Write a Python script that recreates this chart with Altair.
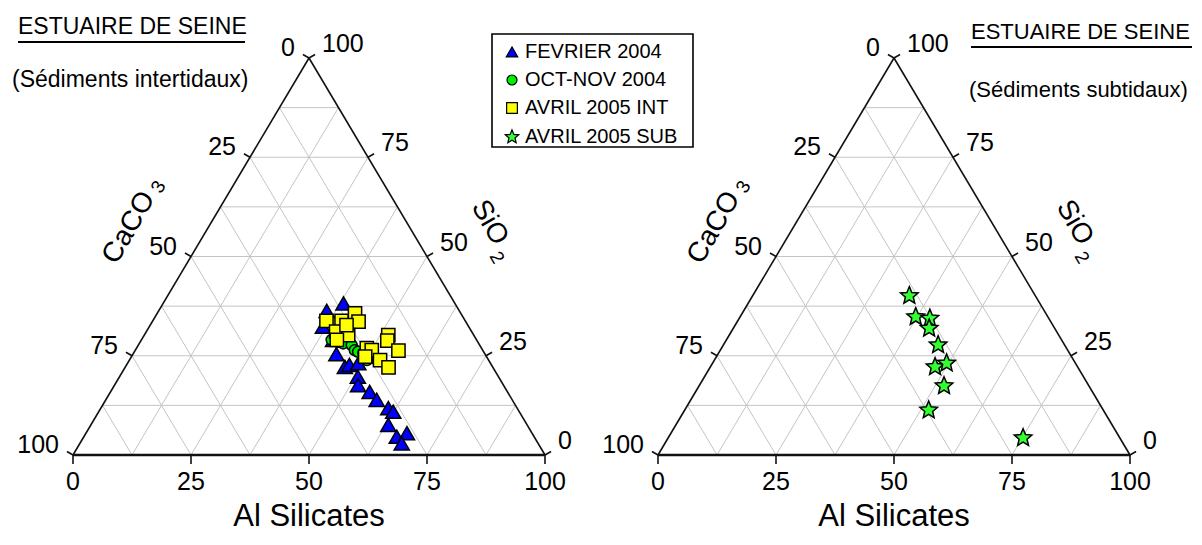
import math
import altair as alt
import pandas as pd

# ---------------- data (percentages: Al silicates, SiO2, CaCO3) ----------------
SERIES = ["FEVRIER 2004", "OCT-NOV 2004", "AVRIL 2005 INT", "AVRIL 2005 SUB"]
FILLS = ["#0000ff", "#00ee00", "#ffff00", "#33ff33"]

FEV_AL = [35.6, 38.2, 36.8, 40.6, 43.1, 46.5, 47.2, 48.9, 50.5, 51.6, 54.9, 57.4, 60.9, 62.4, 63.0, 66.3, 68.0, 68.2]
FEV_SIO2 = [36.3, 38.2, 32.3, 29.0, 25.4, 22.2, 22.7, 23.1, 19.7, 17.6, 15.9, 13.9, 11.8, 10.9, 7.6, 4.6, 5.5, 2.9]
FEV_CACO3 = [28.1, 23.6, 30.9, 30.4, 31.5, 31.3, 30.1, 28.0, 29.8, 30.8, 29.2, 28.7, 27.3, 26.7, 29.4, 29.1, 26.5, 28.9]

OCT_AL = [40.3, 41.9, 43.2, 45.2, 46.5, 47.4, 48.7, 50.0, 51.4, 50.3]
OCT_SIO2 = [29.0, 28.5, 28.1, 27.7, 26.4, 26.0, 25.6, 25.2, 24.4, 23.9]
OCT_CACO3 = [30.7, 29.6, 28.7, 27.1, 27.1, 26.6, 25.7, 24.8, 24.2, 25.8]

INT_AL = [36.8, 40.0, 41.9, 43.7, 40.2, 43.2, 41.6, 41.4, 51.7, 52.2, 55.8, 48.8, 50.1, 53.1, 55.8, 49.5]
INT_SIO2 = [33.8, 33.8, 35.7, 33.6, 31.1, 30.2, 32.7, 29.0, 30.2, 28.8, 26.3, 26.9, 26.4, 23.9, 22.1, 24.8]
INT_CACO3 = [29.4, 26.2, 22.4, 22.7, 28.7, 26.6, 25.7, 29.6, 18.1, 19.0, 17.9, 24.3, 23.5, 23.0, 22.1, 25.7]

SUB_AL = [33.2, 37.2, 40.4, 41.5, 45.5, 47.6, 49.6, 51.9, 51.7, 75.2]
SUB_SIO2 = [40.1, 34.8, 34.4, 31.9, 27.7, 22.2, 23.1, 17.4, 11.3, 4.3]
SUB_CACO3 = [26.7, 28.0, 25.2, 26.6, 26.8, 30.2, 27.3, 30.7, 37.0, 20.5]

GRID_STEPS = [12.5, 25, 37.5, 50, 62.5, 75, 87.5]
TICKS = [0, 25, 50, 75, 100]

TITLE = "ESTUAIRE DE SEINE"
SUB_LEFT = "(Sédiments intertidaux)"
SUB_RIGHT = "(Sédiments subtidaux)"

# ---------------- layout ----------------
W, H = 1186, 529
SX, SY = 4.72, 3.97          # px per ternary unit (x, y)
LEFT_X, BASE_Y = 73, 455      # page px of left triangle's bottom-left corner
RIGHT_X = 658
U0 = -(LEFT_X - 8) / SX
U1 = U0 + W / SX
VTOP = (BASE_Y - 8) / SY
VBOT = VTOP - H / SY
OFF_R = (RIGHT_X - LEFT_X) / SX
FONT = "Liberation Sans"


def px2u(px):
    return U0 + (px - 8) / SX


def py2v(py):
    return VTOP - (py - 8) / SY


def xs(field):
    return alt.X(field, type="quantitative", scale=alt.Scale(domain=[U0, U1], nice=False, zero=False), axis=None)


def ys(field):
    return alt.Y(field, type="quantitative", scale=alt.Scale(domain=[VBOT, VTOP], nice=False, zero=False), axis=None)


def tern(al, si, ca):
    t = al + si + ca
    a, s = 100 * al / t, 100 * si / t
    return a + s / 2, s


# star symbol path
pts = []
for i in range(10):
    r = 1.0 if i % 2 == 0 else 0.45
    ang = math.radians(-90 + 36 * i)
    pts.append(f"{r * math.cos(ang):.3f},{r * math.sin(ang):.3f}")
STAR = "M" + "L".join(pts) + "Z"
SHAPES = ["triangle-up", "circle", "square", STAR]
SIZES = [230, 120, 175, 340]
LEG_SIZES = [130, 100, 115, 200]

# ---------------- points ----------------
rows = []
groups = [
    (SERIES[0], FEV_AL, FEV_SIO2, FEV_CACO3, 0.0, SIZES[0]),
    (SERIES[1], OCT_AL, OCT_SIO2, OCT_CACO3, 0.0, SIZES[1]),
    (SERIES[2], INT_AL, INT_SIO2, INT_CACO3, 0.0, SIZES[2]),
    (SERIES[3], SUB_AL, SUB_SIO2, SUB_CACO3, OFF_R, SIZES[3]),
]
for name, al, si, ca, off, sz in groups:
    for a, s, c in zip(al, si, ca):
        u, v = tern(a, s, c)
        rows.append({"series": name, "u": u + off, "v": v, "size": sz})
pts_df = pd.DataFrame(rows)

fill_scale = alt.Scale(domain=SERIES, range=FILLS)
shape_scale = alt.Scale(domain=SERIES, range=SHAPES)

# ---------------- grid / frame / ticks ----------------
grid, edges, ticks, blab, llab, rlab = [], [], [], [], [], []
for off in (0.0, OFF_R):
    for k in GRID_STEPS:
        grid.append({"u": k / 2 + off, "v": k, "u2": 100 - k / 2 + off, "v2": k})
        grid.append({"u": k + off, "v": 0, "u2": 50 + k / 2 + off, "v2": 100 - k})
        grid.append({"u": 100 - k + off, "v": 0, "u2": (100 - k) / 2 + off, "v2": 100 - k})
    edges.append({"u": 0 + off, "v": 0, "u2": 100 + off, "v2": 0, "w": 2.4})
    edges.append({"u": 0 + off, "v": 0, "u2": 50 + off, "v2": 100, "w": 1.6})
    edges.append({"u": 100 + off, "v": 0, "u2": 50 + off, "v2": 100, "w": 1.6})
    for t in TICKS:
        ticks.append({"u": t + off, "v": 0, "u2": t + off, "v2": -9 / SY})
        lu, lv = (100 - t) / 2 + off, 100 - t
        ticks.append({"u": lu, "v": lv, "u2": lu - 0.866 * 7 / SX, "v2": lv + 0.5 * 7 / SY})
        ru, rv = 100 - t / 2 + off, t
        ticks.append({"u": ru, "v": rv, "u2": ru + 0.866 * 7 / SX, "v2": rv + 0.5 * 7 / SY})
        blab.append({"u": t + off, "v": 0, "t": str(t)})
        llab.append({"u": lu, "v": lv, "t": str(t)})
        rlab.append({"u": ru, "v": rv, "t": str(t)})

grid_l = alt.Chart(pd.DataFrame(grid)).mark_rule(color="#c4c4c4", strokeWidth=1).encode(
    x=xs("u"), y=ys("v"), x2="u2", y2="v2")
edge_l = alt.Chart(pd.DataFrame(edges)).mark_rule(color="#111111").encode(
    x=xs("u"), y=ys("v"), x2="u2", y2="v2", strokeWidth=alt.StrokeWidth("w:Q", scale=None))
tick_l = alt.Chart(pd.DataFrame(ticks)).mark_rule(color="#111111", strokeWidth=1.6).encode(
    x=xs("u"), y=ys("v"), x2="u2", y2="v2")

NUM = 25
blab_l = alt.Chart(pd.DataFrame(blab)).mark_text(font=FONT, fontSize=NUM, align="center", baseline="middle", dy=27, color="black").encode(
    x=xs("u"), y=ys("v"), text="t:N")
llab_l = alt.Chart(pd.DataFrame(llab)).mark_text(font=FONT, fontSize=NUM, align="right", baseline="middle", dx=-14, dy=-10, color="black").encode(
    x=xs("u"), y=ys("v"), text="t:N")
rlab_l = alt.Chart(pd.DataFrame(rlab)).mark_text(font=FONT, fontSize=NUM, align="left", baseline="middle", dx=13, dy=-14, color="black").encode(
    x=xs("u"), y=ys("v"), text="t:N")

# axis titles
axt = []
for off in (0.0, OFF_R):
    axt.append({"u": 50 + off, "v": 0, "t": "Al Silicates"})
ax_bottom = alt.Chart(pd.DataFrame(axt)).mark_text(font=FONT, fontSize=31, align="center", baseline="middle", dy=62, color="black").encode(
    x=xs("u"), y=ys("v"), text="t:N")

ca_df = pd.DataFrame([{"u": 25 + o, "v": 50} for o in (0.0, OFF_R)])
si_df = pd.DataFrame([{"u": 75 + o, "v": 50} for o in (0.0, OFF_R)])
ca_main = alt.Chart(ca_df).mark_text(font=FONT, fontSize=28, angle=300, align="center", baseline="middle", dx=-6, dy=-68, color="black", text="CaCO").encode(x=xs("u"), y=ys("v"))
ca_sub = alt.Chart(ca_df).mark_text(font=FONT, fontSize=19, angle=300, align="center", baseline="middle", dx=44, dy=-63, color="black", text="3").encode(x=xs("u"), y=ys("v"))
si_main = alt.Chart(si_df).mark_text(font=FONT, fontSize=28, angle=60, align="center", baseline="middle", dx=2, dy=-71, color="black", text="SiO").encode(x=xs("u"), y=ys("v"))
si_sub = alt.Chart(si_df).mark_text(font=FONT, fontSize=19, angle=60, align="center", baseline="middle", dx=36, dy=-60, color="black", text="2").encode(x=xs("u"), y=ys("v"))

# ---------------- points ----------------
pts_l = alt.Chart(pts_df).mark_point(filled=True, stroke="black", strokeWidth=1.5, opacity=1).encode(
    x=xs("u"), y=ys("v"),
    fill=alt.Fill("series:N", scale=fill_scale, legend=None),
    shape=alt.Shape("series:N", scale=shape_scale, legend=None),
    size=alt.Size("size:Q", scale=None),
)

# ---------------- legend (manual) ----------------
LEG_Y = [52, 80, 108, 137]
leg_df = pd.DataFrame({
    "series": SERIES,
    "u": [px2u(512)] * 4,
    "ut": [px2u(525)] * 4,
    "v": [py2v(y) for y in LEG_Y],
    "size": LEG_SIZES,
})
leg_box = alt.Chart(pd.DataFrame({"a": [0]})).mark_rect(fill="white", stroke="black", strokeWidth=1.6).encode(
    x=alt.value(484), x2=alt.value(685), y=alt.value(26), y2=alt.value(139))
leg_sym = alt.Chart(leg_df).mark_point(filled=True, stroke="black", strokeWidth=1.2, opacity=1).encode(
    x=xs("u"), y=ys("v"),
    fill=alt.Fill("series:N", scale=fill_scale, legend=None),
    shape=alt.Shape("series:N", scale=shape_scale, legend=None),
    size=alt.Size("size:Q", scale=None),
)
leg_txt = alt.Chart(leg_df).mark_text(font=FONT, fontSize=20, align="left", baseline="middle", color="black").encode(
    x=xs("ut"), y=ys("v"), text="series:N")

# ---------------- headers ----------------
def txt(s, x, y, size, align="left"):
    return alt.Chart(pd.DataFrame({"t": [s]})).mark_text(font=FONT, fontSize=size, align=align, baseline="middle", color="black").encode(
        x=alt.value(x), y=alt.value(y), text="t:N")

def uline(x1, x2, y):
    return alt.Chart(pd.DataFrame({"a": [0]})).mark_rule(color="black", strokeWidth=2).encode(
        x=alt.value(x1), x2=alt.value(x2), y=alt.value(y))

headers = [
    txt(TITLE, 10, 19, 23), uline(10, 237, 34), txt(SUB_LEFT, 4, 72, 23),
    txt(TITLE, 963, 24, 22), uline(963, 1184, 39), txt(SUB_RIGHT, 961, 82, 22),
]

chart = alt.layer(
    grid_l, edge_l, tick_l, blab_l, llab_l, rlab_l, ax_bottom,
    ca_main, ca_sub, si_main, si_sub, pts_l,
    leg_box, leg_sym, leg_txt, *headers,
).properties(width=W, height=H, padding=0, autosize="none").configure_view(stroke=None)

chart.save("out.html", embed_options={"renderer": "svg", "actions": False})
